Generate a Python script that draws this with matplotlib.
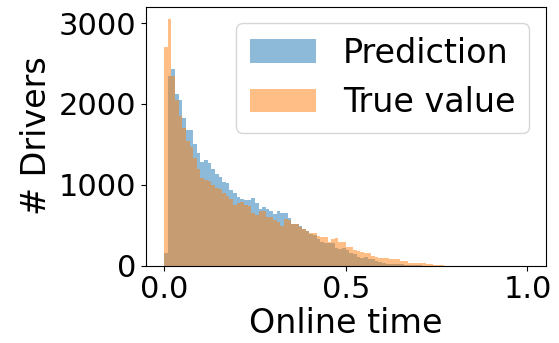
import numpy as np
import matplotlib
matplotlib.use("Agg")
import matplotlib.pyplot as plt

# Histogram counts per bin (100 equal bins over [0, 1])
prediction_counts = [
    153, 2351, 2434, 2125, 2051, 1824, 1680, 1680, 1502, 1391,
    1285, 1308, 1267, 1195, 1130, 1100, 1040, 1020, 940, 900,
    850, 830, 813, 813, 833, 780, 700, 722, 698, 681,
    640, 677, 648, 648, 590, 520, 516, 491, 450, 433,
    390, 380, 326, 297, 285, 277, 285, 214, 202, 214,
    194, 153, 144, 111, 91, 111, 78, 78, 54, 40,
    29, 25, 21, 17, 15, 17, 10, 8, 6, 4,
    3, 2, 1, 1, 0, 0, 0, 0, 0, 0,
]
true_counts = [
    2703, 3053, 2351, 2050, 1850, 1700, 1540, 1470, 1330, 1200,
    1090, 1055, 1045, 999, 958, 945, 895, 865, 820, 751,
    772, 792, 751, 739, 648, 627, 681, 681, 607, 598,
    565, 545, 491, 573, 560, 516, 516, 483, 450, 433,
    409, 409, 368, 360, 351, 297, 326, 347, 297, 297,
    235, 227, 194, 186, 173, 161, 153, 120, 105, 99,
    91, 91, 79, 79, 79, 58, 58, 37, 37, 29,
    37, 29, 22, 18, 14, 10, 6, 0, 0, 0,
]
n_bins = 100
bin_edges = np.linspace(0.0, 1.0, n_bins + 1)
bin_centers = 0.5 * (bin_edges[:-1] + bin_edges[1:])

def pad(counts):
    return np.array(counts + [0] * (n_bins - len(counts)), dtype=float)

x_ticks = [0.0, 0.5, 1.0]
y_ticks = [0, 1000, 2000, 3000]

fig = plt.figure(figsize=(5.59, 3.43), dpi=100)
ax = fig.add_axes([0.261, 0.2254, 0.715, 0.7556])

ax.hist(bin_centers, bins=bin_edges, weights=pad(prediction_counts),
        alpha=0.5, color="#1f77b4", label="Prediction")
ax.hist(bin_centers, bins=bin_edges, weights=pad(true_counts),
        alpha=0.5, color="#ff7f0e", label="True value")

ax.set_xticks(x_ticks)
ax.set_yticks(y_ticks)
ax.tick_params(labelsize=22)
ax.set_xlabel("Online time", fontsize=24, labelpad=2)
ax.set_ylabel("# Drivers", fontsize=24)
ax.legend(fontsize=24, loc="upper right")

fig.savefig("out.png", dpi=100)
